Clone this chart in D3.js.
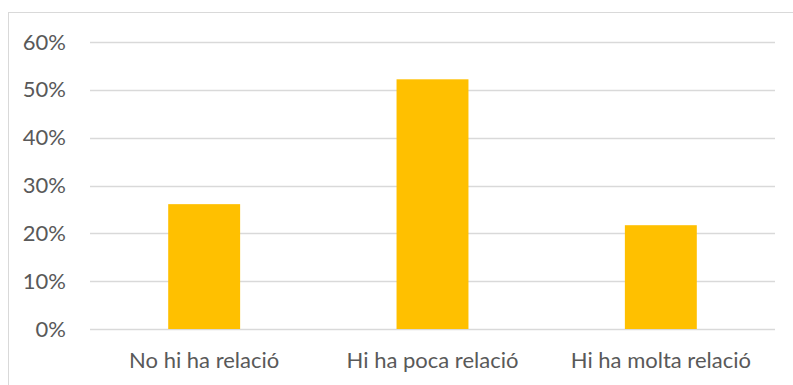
<!DOCTYPE html>
<html>
<head>
<meta charset="utf-8">
<script src="https://cdn.jsdelivr.net/npm/d3@7"></script>
<style>
  html, body { margin: 0; padding: 0; background: #fff; }
  svg { display: block; }
</style>
</head>
<body>
<svg id="chart" width="793" height="385"></svg>
<script>
const categories = ["No hi ha relació", "Hi ha poca relació", "Hi ha molta relació"];
const values = [0.261, 0.522, 0.217];
const yTicks = [0, 0.1, 0.2, 0.3, 0.4, 0.5, 0.6];

const svg = d3.select("#chart");
const W = 793, H = 385;

// chart border (right and bottom cropped out of view)
svg.append("rect")
  .attr("x", 8.5).attr("y", 12.5)
  .attr("width", W + 10).attr("height", H + 10)
  .attr("fill", "none").attr("stroke", "#d9d9d9").attr("stroke-width", 1);

const x = d3.scaleBand().domain(categories).range([90, 775]).paddingInner(0.685).paddingOuter(0.3425);
const y = d3.scaleLinear().domain([0, 0.6]).range([329, 42]);

// gridlines
svg.append("g")
  .selectAll("line").data(yTicks).join("line")
  .attr("x1", 90).attr("x2", 775)
  .attr("y1", d => Math.round(y(d)) + 0.5).attr("y2", d => Math.round(y(d)) + 0.5)
  .attr("stroke", "#d9d9d9").attr("stroke-width", 1.5);

const fontSize = "22px";
const fontFam = "Lato, 'Open Sans', sans-serif";

// y axis labels
const yAxis = d3.axisLeft(y).tickValues(yTicks).tickFormat(d3.format(".0%")).tickSize(0).tickPadding(0);
const gy = svg.append("g").attr("transform", "translate(66,0)").call(yAxis);
gy.select(".domain").remove();
gy.selectAll("text").attr("fill", "#595959").attr("font-size", fontSize).attr("font-family", fontFam);

// bars
svg.append("g").selectAll("rect").data(values).join("rect")
  .attr("x", (d, i) => x(categories[i]))
  .attr("width", x.bandwidth())
  .attr("y", d => y(d))
  .attr("height", d => y(0) - y(d))
  .attr("fill", "#ffc000");

// x axis labels
const xAxis = d3.axisBottom(x).tickSize(0).tickPadding(0);
const gx = svg.append("g").attr("transform", "translate(0,352)").call(xAxis);
gx.select(".domain").remove();
gx.selectAll("text").attr("fill", "#595959").attr("font-size", fontSize).attr("font-family", fontFam);
</script>
</body>
</html>
